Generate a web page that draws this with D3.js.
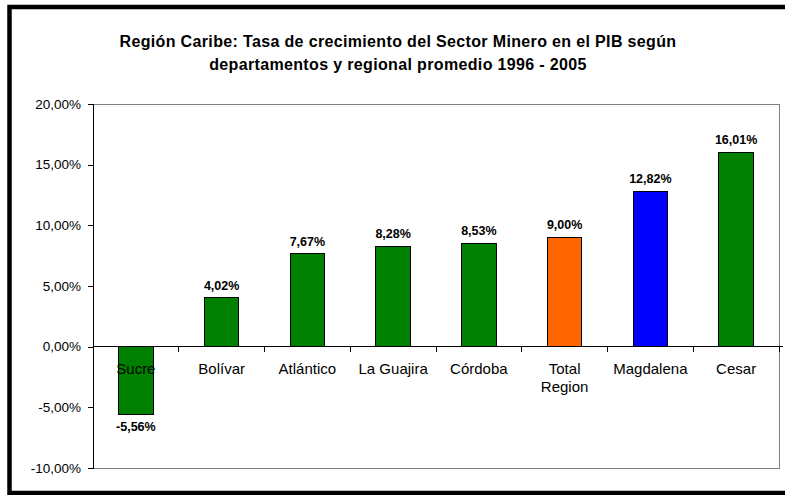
<!DOCTYPE html>
<html>
<head>
<meta charset="utf-8">
<script src="https://cdn.jsdelivr.net/npm/d3@7"></script>
<style>
  body { margin: 0; background: #fff; }
  svg { display: block; font-family: "Liberation Sans", Arial, sans-serif; }
</style>
</head>
<body>
<svg id="chart" width="785" height="495"></svg>
<script>
// data
var categories = ["Sucre", "Bolívar", "Atlántico", "La Guajira", "Córdoba", "Total Region", "Magdalena", "Cesar"];
var values = [-5.56, 4.02, 7.67, 8.28, 8.53, 9.00, 12.82, 16.01];
var barColors = ["#008000", "#008000", "#008000", "#008000", "#008000", "#FF6600", "#0000FF", "#008000"];
var yTicks = [-10, -5, 0, 5, 10, 15, 20];
var titleLines = [
    "Región Caribe: Tasa de crecimiento del Sector Minero en el PIB según",
    "departamentos y regional promedio 1996 - 2005"
];

var svg = d3.select("#chart");
var plot = {left: 93, top: 104, right: 779, bottom: 468};

//comma decimal and plain hyphen like the spreadsheet
var esLocale = d3.formatLocale({decimal: ",", thousands: ".", grouping: [3], currency: ["", ""], minus: "-"});
var pct = function(v) { return esLocale.format(".2f")(v) + "%"; };

var data = categories.map(function(c, i) { return {name: c, value: values[i], color: barColors[i]}; });

var x = d3.scaleBand()
    .domain(categories)
    .range([plot.left, plot.right])
    .paddingInner(0.6)
    .paddingOuter(0.3);

var xb = d3.scaleBand()   //category slots, for the ticks
    .domain(categories)
    .range([plot.left, plot.right]);

var y = d3.scaleLinear()
    .domain([d3.min(yTicks), d3.max(yTicks)])
    .range([plot.bottom, plot.top]);

// outer frame
svg.append("rect")
    .attr("x", 9.5).attr("y", 7)
    .attr("width", 800).attr("height", 486)
    .attr("fill", "none")
    .attr("stroke", "#000")
    .attr("stroke-width", 4.5);

// title
svg.append("g").selectAll("text")
    .data(titleLines)
    .enter().append("text")
    .attr("x", 398)
    .attr("y", function(d, i) { return 47 + i * 23; })
    .attr("text-anchor", "middle")
    .attr("font-size", "16px")
    .attr("font-weight", "bold")
    .attr("letter-spacing", "0.35px")
    .text(function(d) { return d; });

// plot border (gray on top, right, bottom)
svg.append("rect")
    .attr("x", plot.left).attr("y", plot.top)
    .attr("width", plot.right - plot.left).attr("height", plot.bottom - plot.top)
    .attr("fill", "#fff")
    .attr("stroke", "#808080")
    .attr("stroke-width", 1)
    .attr("shape-rendering", "crispEdges");

// y axis
var yAxis = d3.axisLeft(y)
    .tickValues(yTicks)
    .tickSize(5)
    .tickPadding(7)
    .tickFormat(pct);

var gy = svg.append("g")
    .attr("transform", "translate(" + plot.left + ",0)")
    .call(yAxis);
gy.select(".domain").attr("stroke", "#000").attr("shape-rendering", "crispEdges");
gy.selectAll(".tick line").attr("stroke", "#000").attr("shape-rendering", "crispEdges");
gy.selectAll(".tick text")
    .attr("font-family", "Liberation Sans, Arial, sans-serif")
    .attr("font-size", "13.5px")
    .attr("fill", "#000");

// bars
svg.append("g").selectAll("rect")
    .data(data)
    .enter().append("rect")
    .attr("x", function(d) { return x(d.name); })
    .attr("y", function(d) { return y(Math.max(0, d.value)); })
    .attr("width", x.bandwidth())
    .attr("height", function(d) { return Math.abs(y(d.value) - y(0)); })
    .attr("fill", function(d) { return d.color; })
    .attr("stroke", "#000")
    .attr("stroke-width", 1)
    .attr("shape-rendering", "crispEdges");

// zero line with category ticks
var zero = y(0);
svg.append("line")
    .attr("x1", plot.left).attr("x2", plot.right + 4)
    .attr("y1", zero).attr("y2", zero)
    .attr("stroke", "#000")
    .attr("shape-rendering", "crispEdges");

var tickX = categories.map(function(c) { return xb(c); }).concat([plot.right]);
svg.append("g").selectAll("line")
    .data(tickX.slice(1))
    .enter().append("line")
    .attr("x1", function(d) { return d; }).attr("x2", function(d) { return d; })
    .attr("y1", zero).attr("y2", zero + 5)
    .attr("stroke", "#000")
    .attr("shape-rendering", "crispEdges");

// category labels, wrapped when too wide for the slot
var labels = svg.append("g").selectAll("text")
    .data(data)
    .enter().append("text")
    .attr("x", function(d) { return xb(d.name) + xb.bandwidth() / 2; })
    .attr("y", zero + 27)
    .attr("text-anchor", "middle")
    .attr("font-size", "15px")
    .attr("fill", "#000")
    .text(function(d) { return d.name; });

labels.each(function(d) {
    var t = d3.select(this);
    if (this.getComputedTextLength() > xb.bandwidth() - 6 && d.name.indexOf(" ") > 0) {
        var words = d.name.split(" ");
        var cx = t.attr("x");
        t.text(null);
        words.forEach(function(w, i) {
            t.append("tspan").attr("x", cx).attr("dy", i === 0 ? 0 : 18).text(w);
        });
    }
});

// value labels
svg.append("g").selectAll("text")
    .data(data)
    .enter().append("text")
    .attr("x", function(d) { return x(d.name) + x.bandwidth() / 2; })
    .attr("y", function(d) { return d.value >= 0 ? y(d.value) - 8 : y(d.value) + 17; })
    .attr("text-anchor", "middle")
    .attr("font-size", "12.5px")
    .attr("font-weight", "bold")
    .attr("fill", "#000")
    .text(function(d) { return pct(d.value); });
</script>
</body>
</html>
